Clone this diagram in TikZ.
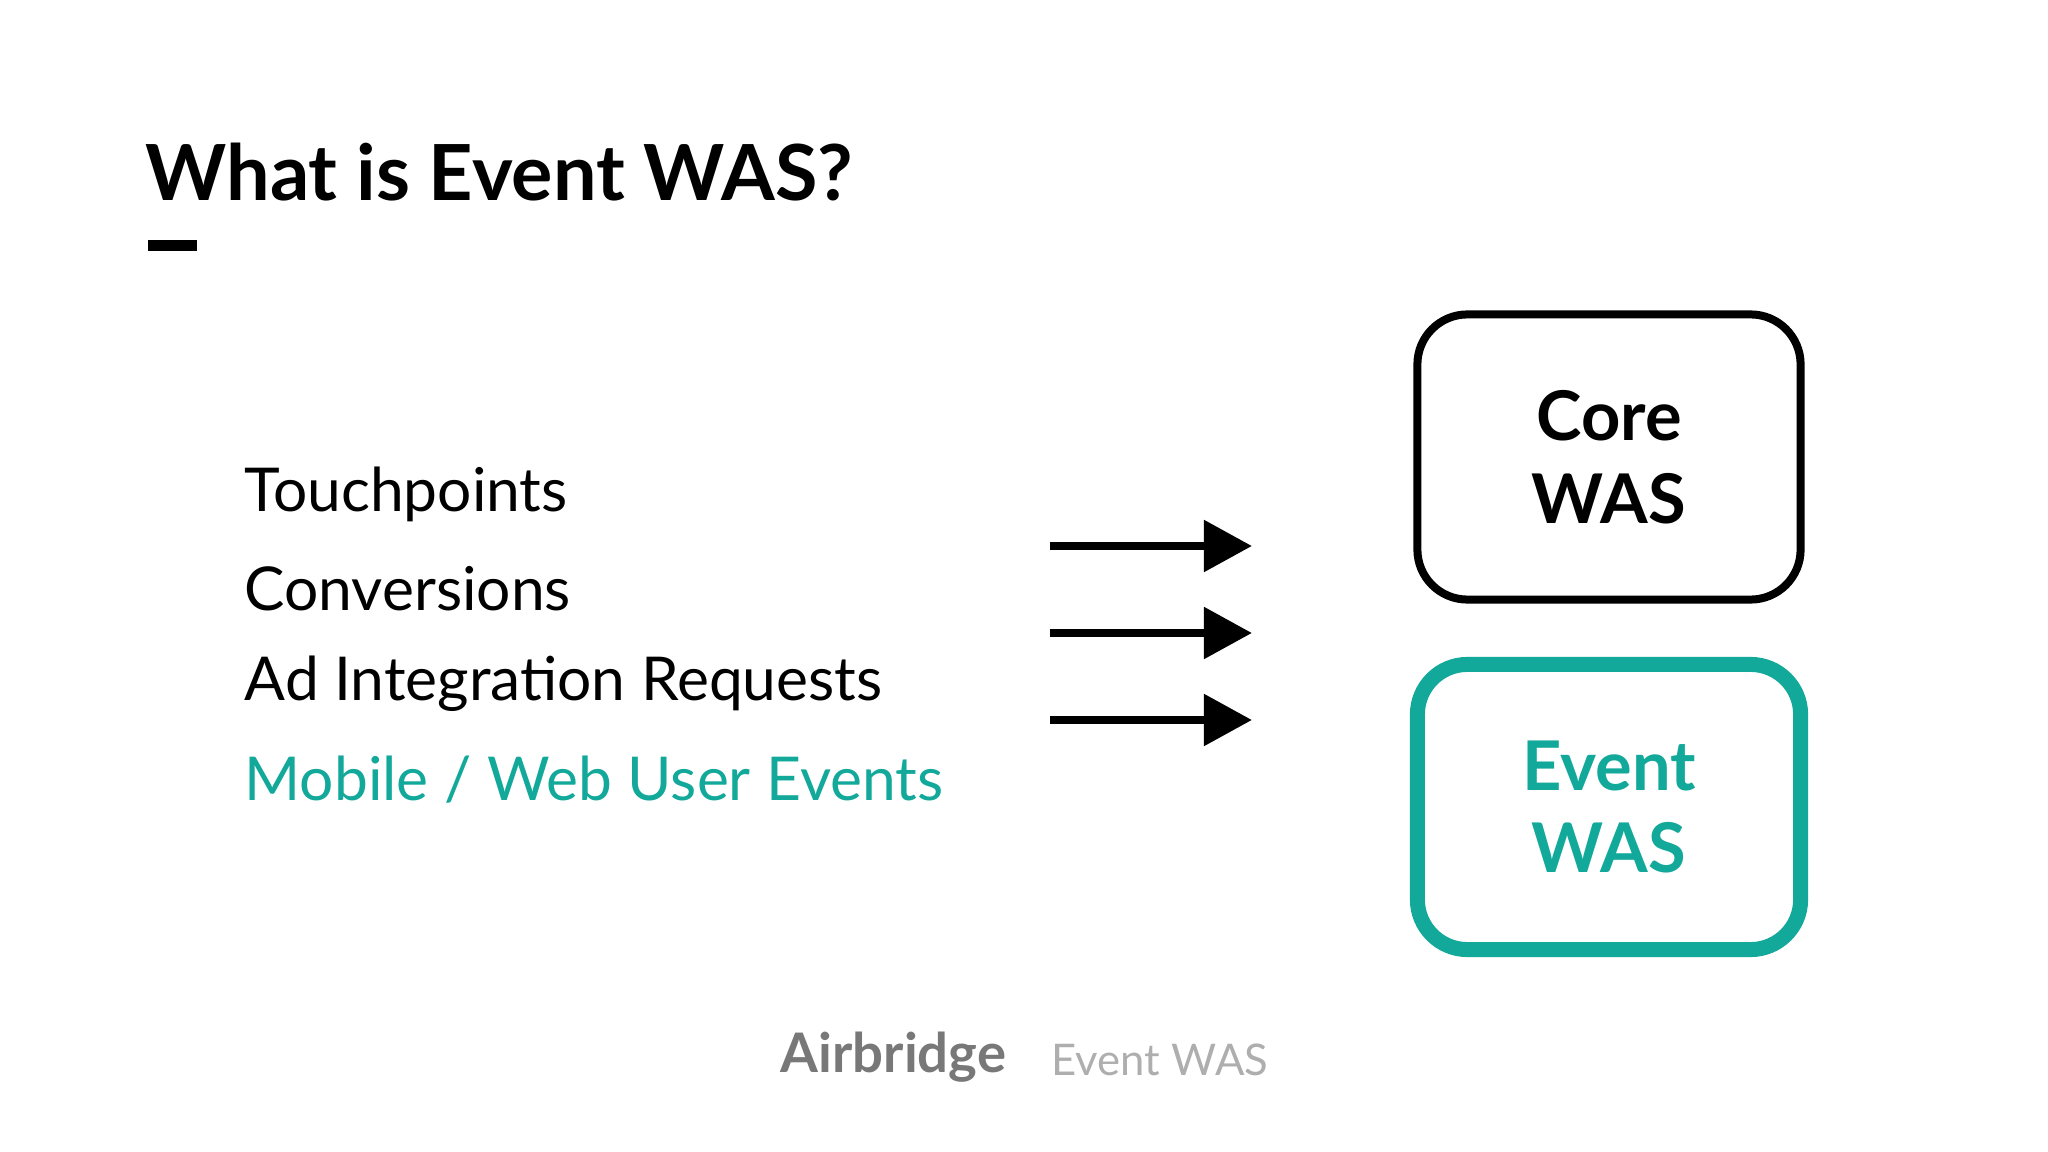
\documentclass[tikz,border=0pt]{standalone}
\usepackage{fontspec}
\setmainfont{Lato}
\usetikzlibrary{positioning,arrows.meta}
\definecolor{tealwas}{RGB}{18,168,154}
\definecolor{footgray}{RGB}{120,120,120}
\begin{document}
\begin{tikzpicture}[x=0.01cm,y=-0.01cm]

\tikzset{
  item/.style={anchor=west, font=\fontsize{17.2}{22}\selectfont, inner sep=0pt},
  flow/.style={line width=0.85mm, -{Triangle[length=4.8mm,width=5mm]}},
  was/.style={rounded corners=5mm, align=center, font=\bfseries\fontsize{19.5}{23.5}\selectfont, minimum width=3.83cm, minimum height=2.85cm}
}

\useasboundingbox (0,0) rectangle (2048,1152);

% Titel
\node[anchor=west, inner sep=0pt, font=\bfseries\fontsize{22}{26}\selectfont] (title) at (145,172) {What is Event WAS?};
\draw[line width=1.1mm] (148,246) -- (197,246);

% Liste
\node[item] (touch) at (244,494) {Touchpoints};
\node[item] (conv) at (244,589) {Conversions};
\node[item] (adint) at (244,684) {Ad Integration Requests};
\node[item, text=tealwas] (mobile) at (244,780) {Mobile / Web User Events};

% Pfeile
\coordinate (a1) at (1050,546); \coordinate (b1) at (1252,546);
\coordinate (a2) at (1050,633); \coordinate (b2) at (1252,633);
\coordinate (a3) at (1050,720); \coordinate (b3) at (1252,720);
\draw[flow] (a1) -- (b1);
\draw[flow] (a2) -- (b2);
\draw[flow] (a3) -- (b3);

% Boxen
\node[was, draw, line width=0.8mm] (core) at (1609,457) {Core\\WAS};
\node[was, draw=tealwas, text=tealwas, line width=1.5mm] (event) at (1609,807) {Event\\WAS};

% Fusszeile
\node[anchor=west, inner sep=0pt, text=footgray, font=\bfseries\fontsize{15.5}{20}\selectfont] (brand) at (780,1057) {Airbridge};
\node[anchor=west, inner sep=0pt, text=footgray!60, font=\fontsize{12.4}{17}\selectfont] (foot) at (1051,1060) {Event WAS};

\end{tikzpicture}
\end{document}
